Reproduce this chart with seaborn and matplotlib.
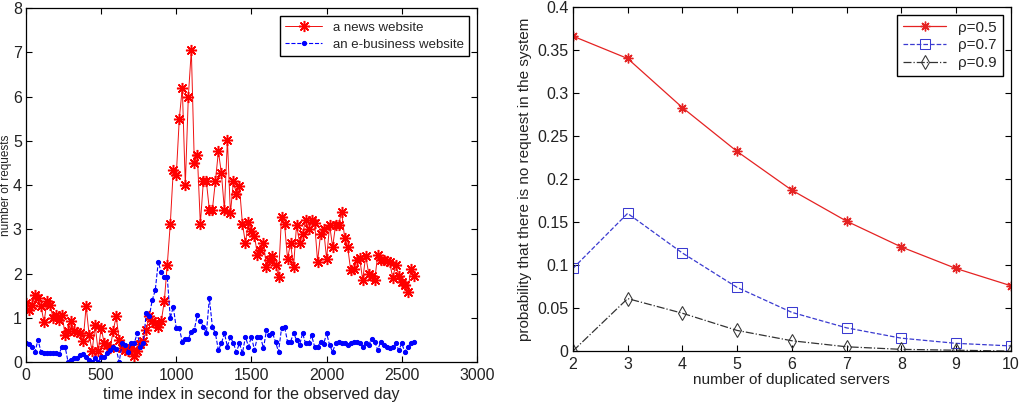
import numpy as np
import pandas as pd
import seaborn as sns
import matplotlib
matplotlib.use("Agg")
import matplotlib.pyplot as plt

# left panel: requests per sample (one sample every 20 s)
time_index = np.arange(0, 2600, 20)
news_requests = [
    1.33, 1.18, 1.29, 1.52, 1.44, 1.26, 0.90, 1.37, 1.29, 1.00,
    1.07, 0.96, 1.07, 0.62, 0.69, 0.92, 0.69, 0.67, 0.65, 0.47,
    1.26, 0.62, 0.24, 0.84, 0.24, 0.77, 0.43, 0.38, 0.32, 0.70,
    1.03, 0.50, 0.32, 0.28, 0.24, 0.32, 0.13, 0.25, 0.40, 0.47,
    0.73, 1.03, 0.92, 0.88, 0.80, 0.92, 1.37, 2.20, 3.12, 4.34,
    4.23, 5.50, 6.20, 4.00, 6.00, 7.05, 4.49, 4.68, 3.12, 4.08,
    4.08, 3.44, 3.44, 4.08, 4.76, 4.27, 3.44, 5.02, 3.36, 4.08,
    3.80, 3.97, 3.12, 2.69, 3.17, 2.95, 2.85, 2.42, 2.53, 2.69,
    2.15, 2.30, 2.40, 2.20, 1.93, 3.28, 3.13, 2.33, 2.69, 2.15,
    3.10, 2.70, 2.90, 3.20, 3.00, 3.20, 3.15, 2.27, 2.90, 3.00,
    2.33, 3.10, 2.60, 3.10, 3.10, 3.40, 2.80, 2.60, 2.08, 2.10,
    2.30, 2.35, 1.85, 2.40, 2.00, 1.95, 1.85, 2.42, 2.30, 2.30,
    2.28, 2.25, 1.90, 2.20, 1.95, 1.80, 1.74, 1.59, 2.10, 1.95,
]
ebiz_requests = [
    0.42, 0.41, 0.35, 0.23, 0.50, 0.23, 0.20, 0.20, 0.20, 0.20,
    0.20, 0.18, 0.35, 0.35, 0.00, 0.05, 0.08, 0.10, 0.15, 0.18,
    0.12, 0.05, 0.00, 0.08, 0.00, 0.12, 0.12, 0.20, 0.27, 0.35,
    0.30, 0.00, 0.42, 0.38, 0.23, 0.42, 0.42, 0.65, 0.35, 0.42,
    1.10, 1.03, 1.40, 1.62, 2.26, 2.03, 1.91, 1.91, 0.99, 1.25,
    0.76, 0.76, 0.46, 0.53, 0.53, 0.68, 0.73, 1.07, 0.92, 0.80,
    0.65, 1.44, 0.80, 0.65, 0.27, 0.42, 0.65, 0.35, 0.57, 0.42,
    0.23, 0.42, 0.20, 0.57, 0.35, 0.57, 0.27, 0.57, 0.57, 0.31,
    0.72, 0.60, 0.65, 0.46, 0.23, 0.76, 0.80, 0.46, 0.46, 0.65,
    0.50, 0.38, 0.65, 0.42, 0.42, 0.60, 0.35, 0.35, 0.45, 0.40,
    0.65, 0.38, 0.23, 0.42, 0.46, 0.42, 0.42, 0.38, 0.42, 0.46,
    0.46, 0.42, 0.35, 0.42, 0.38, 0.53, 0.46, 0.27, 0.46, 0.38,
    0.35, 0.31, 0.35, 0.42, 0.27, 0.42, 0.23, 0.35, 0.42, 0.46,
]

# right panel: P(no request) vs number of servers
servers = [2, 3, 4, 5, 6, 7, 8, 9, 10]
p_rho05 = [0.366, 0.340, 0.283, 0.232, 0.187, 0.151, 0.121, 0.096, 0.076]
p_rho07 = [0.096, 0.160, 0.114, 0.074, 0.045, 0.027, 0.015, 0.009, 0.006]
p_rho09 = [0.000, 0.061, 0.044, 0.024, 0.012, 0.005, 0.002, 0.001, 0.000]
rho_labels = ["\u03c1=0.5", "\u03c1=0.7", "\u03c1=0.9"]
right_yticks = [0, 0.05, 0.1, 0.15, 0.2, 0.25, 0.3, 0.35, 0.4]
right_yticklabels = ["0", "0.05", "0.1", "0.15", "0.2", "0.25", "0.3", "0.35", "0.4"]

sns.set_theme(style="white")
plt.rcParams["font.family"] = ["Liberation Sans", "DejaVu Sans"]
plt.rcParams.update({
    "xtick.direction": "in", "ytick.direction": "in",
    "xtick.top": True, "ytick.right": True,
    "xtick.major.size": 4, "ytick.major.size": 4,
    "xtick.major.width": 0.8, "ytick.major.width": 0.8,
    "xtick.bottom": True, "ytick.left": True,
    "axes.edgecolor": "black", "axes.linewidth": 0.9,
    "xtick.color": "black", "ytick.color": "black",
    "xtick.labelcolor": "#222222", "ytick.labelcolor": "#222222",
    "xtick.labelsize": 11.5, "ytick.labelsize": 11.5,
    "xtick.major.pad": 4, "ytick.major.pad": 3,
})

fig = plt.figure(figsize=(10.23, 4.04), dpi=100)
ax1 = fig.add_axes([0.0254, 0.104, 0.4408, 0.876])
ax2 = fig.add_axes([0.560, 0.131, 0.428, 0.852])

left = pd.DataFrame({"t": time_index, "news": news_requests, "ebiz": ebiz_requests})

sns.lineplot(data=left, x="t", y="news", ax=ax1, color="#f01010", linewidth=0.7,
             marker=(8, 2, 0), markersize=8, markeredgewidth=1.1,
             markeredgecolor="red", label="a news website")
sns.lineplot(data=left, x="t", y="ebiz", ax=ax1, color="blue", linewidth=0.8,
             linestyle="--", dashes=(8, 4), marker=".", markersize=6,
             markeredgecolor="blue", label="an e-business website")

ax1.set_xlim(0, 3000)
ax1.set_ylim(0, 8)
ax1.set_xticks([0, 500, 1000, 1500, 2000, 2500, 3000])
ax1.set_yticks(range(0, 9))
ax1.set_xlabel("time index in second for the observed day", fontsize=11.5, color="#222222", labelpad=3)
# the label sits in the narrow strip left of the tick labels
ax1.set_ylabel("number of requests", fontsize=8.5, color="#222222")
ax1.yaxis.set_label_coords(-0.030, 0.5)
ax1.legend(loc="upper right", frameon=True, fancybox=False, framealpha=1,
           edgecolor="black", fontsize=9.5, borderpad=0.4, handlelength=2.8,
           labelspacing=0.4, borderaxespad=0.6)

right = pd.DataFrame({"n": servers, "r5": p_rho05, "r7": p_rho07, "r9": p_rho09})
sns.lineplot(data=right, x="n", y="r5", ax=ax2, color="#e52222", linewidth=0.9,
             marker=(8, 2, 0), markersize=7, markeredgewidth=1.0,
             markeredgecolor="#e52222", label=rho_labels[0])
sns.lineplot(data=right, x="n", y="r7", ax=ax2, color="#3a3ad0", linewidth=0.9,
             linestyle="--", dashes=(8, 4), marker="s", markersize=7.5,
             markerfacecolor="none", markeredgecolor="#3a3ad0", label=rho_labels[1])
sns.lineplot(data=right, x="n", y="r9", ax=ax2, color="#333333", linewidth=0.9,
             linestyle="-.", dashes=(7, 3, 1.5, 3), marker="d", markersize=7.5,
             markerfacecolor="none", markeredgecolor="#333333", label=rho_labels[2])

ax2.set_xlim(2, 10)
ax2.set_ylim(0, 0.4)
ax2.set_xticks(servers)
ax2.set_yticks(right_yticks)
ax2.set_yticklabels(right_yticklabels)
ax2.set_xlabel("number of duplicated servers", fontsize=11, color="#222222", labelpad=1)
ax2.set_ylabel("probability that there is no request in the system", fontsize=11,
               color="#222222", labelpad=4)
ax2.legend(loc="upper right", frameon=True, fancybox=False, framealpha=1,
           edgecolor="black", fontsize=11, borderpad=0.4, handlelength=2.8,
           labelspacing=0.25, borderaxespad=0.5)

fig.savefig("out.png", dpi=100)
